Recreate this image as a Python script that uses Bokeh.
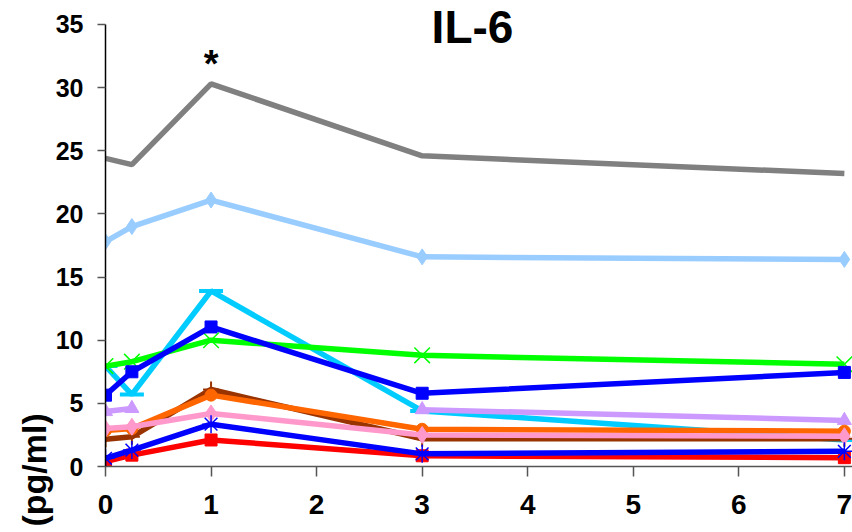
import math
from bokeh.plotting import figure
from bokeh.models import Range1d, Label, FixedTicker, Title
from bokeh.embed import file_html
from bokeh.resources import INLINE

nan = float("nan")

# ---- data ----
days = [0, 0.25, 1, 3, 7]
x_ticks = [0, 1, 2, 3, 4, 5, 6, 7]
y_ticks = [0, 5, 10, 15, 20, 25, 30, 35]

gray_vals = [24.4, 23.9, 30.3, 24.6, 23.2]
lightblue_vals = [17.8, 19.0, 21.1, 16.6, 16.4]
cyan_vals = [7.95, 5.7, 13.9, 4.4, 2.1]
green_vals = [7.95, 8.3, 10.0, 8.8, 8.1]
bluesq_vals = [5.65, 7.5, 11.05, 5.8, 7.45]
lavender_vals = [4.35, 4.6, nan, 4.5, 3.65]
brown_vals = [2.15, 2.35, 6.1, 2.2, 2.2]
orange_vals = [2.85, 3.0, 5.65, 2.95, 2.8]
pink_vals = [3.0, 3.15, 4.2, 2.5, 2.4]
blueast_vals = [0.65, 1.3, 3.35, 1.0, 1.2]
red_vals = [0.38, 0.9, 2.1, 0.85, 0.7]

title_text = "IL-6"
star_text = "*"
ylabel_text = "(pg/ml)"

FONT = "Liberation Sans"

p = figure(width=852, height=532, output_backend="svg", toolbar_location=None,
           x_range=Range1d(0, 7.077), y_range=Range1d(0, 36.9),
           min_border_left=105, min_border_right=0, min_border_top=0, min_border_bottom=66)
p.outline_line_color = None
p.grid.visible = False
p.background_fill_color = "white"

# axes
p.xaxis.ticker = FixedTicker(ticks=x_ticks)
p.yaxis.ticker = FixedTicker(ticks=y_ticks)
p.yaxis.bounds = (0, 35)
for ax in (p.xaxis[0], p.yaxis[0]):
    ax.major_label_text_font = FONT
    ax.major_label_text_font_style = "bold"
    ax.major_label_text_color = "black"
    ax.minor_tick_line_color = None
    ax.major_tick_in = 0
p.xaxis.major_label_text_font_size = "28px"
p.yaxis.major_label_text_font_size = "25px"
p.xaxis.major_tick_out = 10
p.yaxis.major_tick_out = 8
p.xaxis.major_label_standoff = 18
p.yaxis.major_label_standoff = 14
p.xaxis.axis_line_color = "#555555"
p.xaxis.major_tick_line_color = "#555555"
p.xaxis.axis_line_width = 1.5
p.xaxis.major_tick_line_width = 1.5
p.yaxis.axis_line_color = "black"
p.yaxis.major_tick_line_color = "#555555"
p.yaxis.axis_line_width = 1.5
p.yaxis.major_tick_line_width = 1.5

LW = 5.5

# gray (no markers)
p.line(days, gray_vals, line_color="#808080", line_width=LW)

# light blue diamonds
p.line(days, lightblue_vals, line_color="#99CCFF", line_width=LW)
p.scatter(days, lightblue_vals, marker="diamond", size=16, color="#99CCFF")

# cyan dash
p.line(days, cyan_vals, line_color="#00CCFF", line_width=LW)
p.scatter(days, cyan_vals, marker="dash", size=24, line_color="#00CCFF", line_width=4)

# green x
p.line(days, green_vals, line_color="#00FF00", line_width=LW)
p.scatter(days, green_vals, marker="x", size=22, line_color="#00FF00", line_width=1.5)

# blue squares
p.line(days, bluesq_vals, line_color="#0000FF", line_width=LW)
p.scatter(days, bluesq_vals, marker="square", size=12, color="#0000FF")

# lavender triangles
p.line(days, lavender_vals, line_color="#CC99FF", line_width=LW)
p.scatter(days, lavender_vals, marker="triangle", size=14, color="#CC99FF")

# brown plus
p.line(days, brown_vals, line_color="#993300", line_width=LW)
p.scatter(days, brown_vals, marker="cross", size=16, line_color="#993300", line_width=2)

# orange circles
p.line(days, orange_vals, line_color="#FF6600", line_width=LW)
p.scatter(days, orange_vals, marker="circle", size=12, color="#FF6600")

# pink diamonds
p.line(days, pink_vals, line_color="#FF99CC", line_width=LW)
p.scatter(days, pink_vals, marker="diamond", size=17, color="#FF99CC")

# red squares
p.line(days, red_vals, line_color="#FF0000", line_width=LW)
p.scatter(days, red_vals, marker="square", size=12, color="#FF0000")

# blue asterisk
p.line(days, blueast_vals, line_color="#0000FF", line_width=LW)
p.scatter(days, blueast_vals, marker="asterisk", size=18, line_color="#0000FF", line_width=1.5)

# title and star (inside the frame)
p.add_layout(Label(x=3.477, y=34.84, text=title_text, text_font=FONT, text_font_style="bold",
                   text_font_size="46px", text_align="center", text_baseline="alphabetic",
                   text_color="black"))
p.add_layout(Label(x=1.0, y=31.9, text=star_text, text_font=FONT, text_font_style="bold",
                   text_font_size="38px", text_align="center", text_baseline="alphabetic",
                   text_color="black"))

# y axis label as a vertical side title near the bottom-left
p.add_layout(Title(text=ylabel_text, align="left", text_font=FONT, text_font_style="bold",
                   text_font_size="34px", text_color="black", offset=-60, standoff=0), "left")

open("out.html", "w").write(file_html(p, INLINE))
